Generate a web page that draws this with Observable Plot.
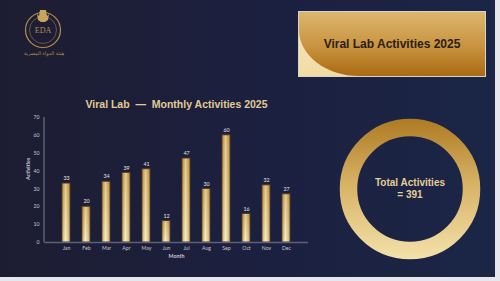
<!DOCTYPE html>
<html><head><meta charset="utf-8">
<script src="https://cdn.jsdelivr.net/npm/d3@7"></script>
<script src="https://cdn.jsdelivr.net/npm/@observablehq/plot@0.6"></script>
<style>
html,body{margin:0;padding:0;}
#slide{position:relative;width:500px;height:281px;overflow:hidden;background:#e6e7ec;}
#bg{position:absolute;left:0;top:0;width:495px;height:277px;background:linear-gradient(90deg,#1d1d32 0%,#1c2040 55%,#1b2646 100%);}
#chart{position:absolute;left:0;top:0;}
#box{position:absolute;left:298px;top:11px;width:186px;height:64px;border:1px solid #d8d4c8;overflow:hidden;background:linear-gradient(160deg,#f6e8bd 0%,#ecd08f 100%);}
#boxInner{position:absolute;left:0;top:0;width:186px;height:64px;border-bottom-left-radius:60px 46px;background:linear-gradient(180deg,#dcb76e 0%,#c8923e 55%,#a96a12 100%);}
#boxText{position:absolute;left:0;top:0;width:186px;height:64px;display:flex;align-items:center;justify-content:center;font:bold 12px "Liberation Sans",Arial,sans-serif;color:#2a2018;}
#ring{position:absolute;left:0;top:0;}
#logo{position:absolute;left:0;top:0;}
</style></head>
<body>
<div id="slide">
  <div id="bg"></div>
  <svg id="logo" width="100" height="70"></svg>
  <div id="box"><div id="boxInner"></div><div id="boxText">Viral Lab Activities 2025</div></div>
  <svg id="ring" width="500" height="281"></svg>
  <div id="chart"></div>
</div>
<script>
const months = ["Jan","Feb","Mar","Apr","May","Jun","Jul","Aug","Sep","Oct","Nov","Dec"];
const activities = [33,20,34,39,41,12,47,30,60,16,32,27];
const yTicks = [0,10,20,30,40,50,60,70];
const chartTitle = "Viral Lab  —  Monthly Activities 2025";
const xLabel = "Month";
const yLabel = "Activities";
const totalLabel = "Total Activities";

const data = months.map((m,i)=>({month:m, value:activities[i]}));
const total = d3.sum(activities);

function defsAndAxis(index, scales, values, dimensions) {
  const g = d3.create("svg:g");
  const defs = g.append("defs");
  const v = defs.append("linearGradient").attr("id","barV").attr("x1",0).attr("y1",0).attr("x2",0).attr("y2",1);
  v.append("stop").attr("offset","0%").attr("stop-color","#d6ab58");
  v.append("stop").attr("offset","100%").attr("stop-color","#f8e8b4");
  const h = defs.append("linearGradient").attr("id","barH").attr("x1",0).attr("y1",0).attr("x2",1).attr("y2",0);
  h.append("stop").attr("offset","0%").attr("stop-color","#7a5418").attr("stop-opacity",0.35);
  h.append("stop").attr("offset","45%").attr("stop-color","#fff8e0").attr("stop-opacity",0.4);
  h.append("stop").attr("offset","100%").attr("stop-color","#7a5418").attr("stop-opacity",0.35);
  const x0 = dimensions.marginLeft;
  g.append("line").attr("x1",x0).attr("x2",x0)
    .attr("y1",scales.y(70)).attr("y2",scales.y(0))
    .attr("stroke","#6c7088").attr("stroke-width",1.2);
  return g.node();
}

const plot = Plot.plot({
  width: 500, height: 281,
  marginLeft: 44, marginRight: 192, marginTop: 117, marginBottom: 39,
  style: {background:"transparent", color:"#c6c7d0", fontFamily:"Lato, 'Open Sans', sans-serif", fontSize:"5.2px"},
  x: {domain: months, padding: 0.59, label: null},
  y: {domain: [0,70], ticks: yTicks, label: null},
  marks: [
    defsAndAxis,
    Plot.barY(data, {x:"month", y:"value", fill:"url(#barV)", stroke:"#4f3b1b", strokeWidth:1}),
    Plot.barY(data, {x:"month", y:"value", fill:"url(#barH)", inset:0.5}),
    Plot.ruleY([0], {stroke:"#5b6079", strokeWidth:1.6}),
    Plot.axisX({tickSize:0, tickPadding:4, label:null, fill:"#c6c7d0"}),
    Plot.axisY({ticks: yTicks, tickSize:0, tickPadding:5, label:null, fill:"#c6c7d0"}),
    Plot.text(data, {x:"month", y:"value", text: d=>String(d.value), dy:-5, fill:"#e6e6ea", fontSize:5.3}),
    Plot.text([xLabel], {frameAnchor:"bottom", dy:15, fill:"#c6c7d0", fontSize:5.3, fontWeight:"bold"}),
    Plot.text([yLabel], {frameAnchor:"left", dx:-16, rotate:-90, fill:"#c6c7d0", fontSize:5.3, fontWeight:"bold"}),
    Plot.text([chartTitle], {frameAnchor:"top", dy:-17, fill:"#e0cb94", fontSize:10.5, fontWeight:"bold", fontFamily:"'Liberation Sans', Arial, sans-serif"})
  ]
});
plot.style.whiteSpace = "pre";
document.getElementById("chart").appendChild(plot);

// ring
const ring = d3.select("#ring");
const rd = ring.append("defs");
const rg = rd.append("linearGradient").attr("id","ringG").attr("gradientUnits","userSpaceOnUse")
  .attr("x1",0).attr("y1",118).attr("x2",0).attr("y2",260);
rg.append("stop").attr("offset","0%").attr("stop-color","#ad7a22");
rg.append("stop").attr("offset","45%").attr("stop-color","#d6b164");
rg.append("stop").attr("offset","100%").attr("stop-color","#f4e2ab");
ring.append("circle").attr("cx",410).attr("cy",189).attr("r",61.5)
  .attr("fill","none").attr("stroke","url(#ringG)").attr("stroke-width",17.5);
ring.append("text").attr("x",410).attr("y",186).attr("text-anchor","middle")
  .attr("font-family","'Liberation Sans', Arial, sans-serif").attr("font-weight","bold").attr("font-size",10)
  .attr("fill","#e3ce96").text(totalLabel);
ring.append("text").attr("x",410).attr("y",198).attr("text-anchor","middle")
  .attr("font-family","'Liberation Sans', Arial, sans-serif").attr("font-weight","bold").attr("font-size",10)
  .attr("fill","#e3ce96").text("= " + total);

// logo
const logo = d3.select("#logo");
const gold = "#b48c4c";
logo.append("circle").attr("cx",43).attr("cy",30).attr("r",17.5).attr("fill","none").attr("stroke",gold).attr("stroke-width",1.2);
logo.append("circle").attr("cx",43).attr("cy",30).attr("r",13.5).attr("fill","none").attr("stroke",gold).attr("stroke-width",0.5);
logo.append("path").attr("d","M40 10 L46 10 L47 16 L49 14 L48 20 L45 22 L41 22 L38 20 L37 14 L39 16 Z").attr("fill","#c9a45c");
logo.append("text").attr("x",43).attr("y",33).attr("text-anchor","middle").attr("font-family","'Liberation Serif',serif")
  .attr("font-size",8).attr("fill",gold).text("EDA");
logo.append("text").attr("x",44).attr("y",55).attr("text-anchor","middle").attr("font-family","'DejaVu Sans',sans-serif")
  .attr("font-size",5).attr("fill",gold).text("هيئة الدواء المصرية");
</script>
</body></html>
